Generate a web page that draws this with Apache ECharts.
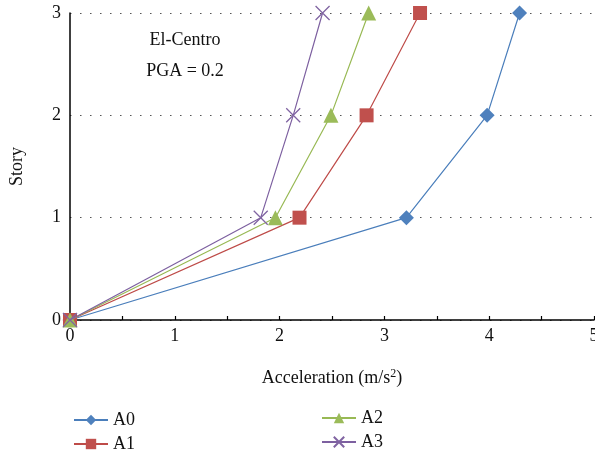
<!DOCTYPE html>
<html>
<head>
<meta charset="utf-8">
<script src="https://cdn.jsdelivr.net/npm/echarts@6/dist/echarts.min.js"></script>
<style>
  html, body { margin: 0; padding: 0; background: #fff; }
  #chart { width: 595px; height: 458px; }
</style>
</head>
<body>
<div id="chart"></div>
<script>
// Story levels (y) and peak floor acceleration in m/s^2 (x) for each case
const stories = [0, 1, 2, 3];
const accA0 = [0, 3.21, 3.98, 4.29];
const accA1 = [0, 2.19, 2.83, 3.34];
const accA2 = [0, 1.96, 2.49, 2.85];
const accA3 = [0, 1.82, 2.13, 2.41];
const seriesNames = ['A0', 'A1', 'A2', 'A3'];
const xTicks = [0, 1, 2, 3, 4, 5];
const yTicks = [0, 1, 2, 3];

const FONT = '"Liberation Serif", "DejaVu Serif", serif';
const FS = 18;
const TXT = '#111';
const lineColors = ['#4A7EBB', '#BE4B48', '#98B954', '#7D60A0'];
const markColors = ['#4F81BD', '#C0504D', '#9BBB59', '#8064A2'];
const crossPath = 'path://M0,0L10,10M10,0L0,10';

function pairs(acc) {
  return acc.map((a, i) => [a, stories[i]]);
}

const symbols = ['diamond', 'rect', 'triangle', crossPath];
const sizes = [15, 14, 15, 14];
const allAcc = [accA0, accA1, accA2, accA3];

const series = seriesNames.map((name, k) => {
  const isCross = k === 3;
  return {
    name: name,
    type: 'line',
    data: pairs(allAcc[k]),
    symbol: symbols[k],
    symbolSize: sizes[k],
    showAllSymbol: true,
    lineStyle: { color: lineColors[k], width: 1.2 },
    itemStyle: isCross
      ? { color: 'none', borderColor: markColors[k], borderWidth: 1.3 }
      : { color: markColors[k], borderWidth: 0 },
    emphasis: { disabled: true },
    animation: false,
    z: 2 + k
  };
});

const legendText = { fontFamily: FONT, fontSize: FS, color: TXT, lineHeight: 16 };

const chart = echarts.init(document.getElementById('chart'), null, { renderer: 'canvas' });
chart.setOption({
  backgroundColor: '#fff',
  animation: false,
  grid: { left: 70, right: 1, top: 13, bottom: 138, containLabel: false, outerBoundsMode: 'none' },
  xAxis: {
    type: 'value',
    min: xTicks[0],
    max: xTicks[xTicks.length - 1],
    interval: 1,
    name: 'Acceleration (m/s{sup|2})',
    nameLocation: 'middle',
    nameGap: 48,
    nameTextStyle: {
      fontFamily: FONT, fontSize: FS, color: TXT,
      rich: { sup: { fontFamily: FONT, fontSize: 12, color: TXT, verticalAlign: 'top', padding: [0, 0, 9, 0] } }
    },
    axisLine: { show: true, onZero: false, lineStyle: { color: '#000', width: 1.5 } },
    axisTick: { show: true, inside: true, length: 4, lineStyle: { color: '#000', width: 1.2 } },
    minorTick: { show: true, splitNumber: 2, length: 4, lineStyle: { color: '#000', width: 1.2 } },
    axisLabel: { fontFamily: FONT, fontSize: FS, color: TXT, margin: 7, showMaxLabel: true, showMinLabel: true },
    splitLine: { show: false }
  },
  yAxis: {
    type: 'value',
    min: yTicks[0],
    max: yTicks[yTicks.length - 1],
    interval: 1,
    name: 'Story',
    nameLocation: 'middle',
    nameGap: 44,
    nameTextStyle: { fontFamily: FONT, fontSize: FS, color: TXT },
    axisLine: { show: true, onZero: false, lineStyle: { color: '#000', width: 1.5 } },
    axisTick: { show: false },
    axisLabel: { fontFamily: FONT, fontSize: FS, color: TXT, margin: 9, showMaxLabel: true, showMinLabel: true },
    splitLine: {
      show: true,
      lineStyle: { color: '#555', width: 1.2, type: [1.5, 8.5] }
    }
  },
  legend: [
    {
      data: ['A0', 'A1'],
      orient: 'vertical',
      left: 68, top: 406, height: 52,
      itemWidth: 34, itemHeight: 13, itemGap: 6,
      textStyle: legendText,
      selectedMode: false
    },
    {
      data: ['A2', 'A3'],
      orient: 'vertical',
      left: 316, top: 404, height: 54,
      itemWidth: 34, itemHeight: 13, itemGap: 6,
      textStyle: legendText,
      selectedMode: false
    }
  ],
  graphic: [
    { type: 'text', x: 185, y: 40, style: { text: 'El-Centro', fontFamily: FONT, fontSize: FS, fill: TXT, align: 'center', verticalAlign: 'middle' } },
    { type: 'text', x: 185, y: 71, style: { text: 'PGA = 0.2', fontFamily: FONT, fontSize: FS, fill: TXT, align: 'center', verticalAlign: 'middle' } }
  ],
  series: series
});
</script>
</body>
</html>
